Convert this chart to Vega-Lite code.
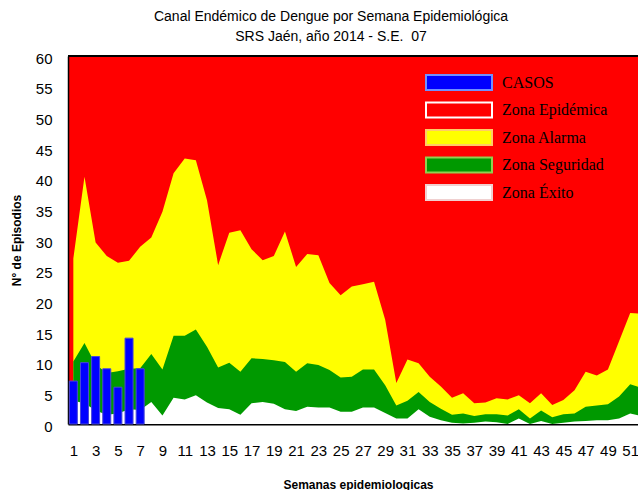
{
  "$schema": "https://vega.github.io/schema/vega-lite/v6.json",
  "width": 570,
  "height": 368,
  "autosize": {"type": "none"},
  "padding": {"left": 68, "top": 56, "right": 0, "bottom": 66},
  "background": "white",
  "config": {
    "view": {"fill": "#FF0000", "stroke": null},
    "font": "Liberation Sans",
    "axis": {"labelOverlap": false, "labelFlush": false, "grid": false, "ticks": false, "tickCount": 100}
  },
  "title": {
    "text": ["Canal Endémico de Dengue por Semana Epidemiológica", "SRS Jaén, año 2014 - S.E. \u00a007"],
    "font": "Liberation Sans",
    "fontSize": 14,
    "fontWeight": "normal",
    "color": "black",
    "anchor": "middle",
    "dx": -22,
    "offset": 7,
    "lineHeight": 20
  },
  "data": {
    "values": [
      {"semana": 1, "alarma": 27.0, "seguridad": 10.2, "exito": 3.8, "casos": 7},
      {"semana": 2, "alarma": 40.3, "seguridad": 13.2, "exito": 3.4, "casos": 10},
      {"semana": 3, "alarma": 29.6, "seguridad": 9.7, "exito": 2.2, "casos": 11},
      {"semana": 4, "alarma": 27.4, "seguridad": 8.3, "exito": 1.5, "casos": 9},
      {"semana": 5, "alarma": 26.3, "seguridad": 8.6, "exito": 1.7, "casos": 6},
      {"semana": 6, "alarma": 26.6, "seguridad": 9.0, "exito": 2.4, "casos": 14},
      {"semana": 7, "alarma": 28.9, "seguridad": 9.1, "exito": 2.3, "casos": 9},
      {"semana": 8, "alarma": 30.4, "seguridad": 11.4, "exito": 3.6},
      {"semana": 9, "alarma": 34.6, "seguridad": 8.9, "exito": 1.4},
      {"semana": 10, "alarma": 40.9, "seguridad": 14.4, "exito": 4.3},
      {"semana": 11, "alarma": 43.3, "seguridad": 14.4, "exito": 4.0},
      {"semana": 12, "alarma": 43.0, "seguridad": 15.4, "exito": 4.7},
      {"semana": 13, "alarma": 36.5, "seguridad": 12.6, "exito": 3.5},
      {"semana": 14, "alarma": 25.9, "seguridad": 9.2, "exito": 2.6},
      {"semana": 15, "alarma": 31.2, "seguridad": 10.0, "exito": 2.4},
      {"semana": 16, "alarma": 31.6, "seguridad": 8.5, "exito": 1.5},
      {"semana": 17, "alarma": 28.5, "seguridad": 10.7, "exito": 3.4},
      {"semana": 18, "alarma": 26.7, "seguridad": 10.6, "exito": 3.6},
      {"semana": 19, "alarma": 27.4, "seguridad": 10.4, "exito": 3.3},
      {"semana": 20, "alarma": 31.4, "seguridad": 10.1, "exito": 2.4},
      {"semana": 21, "alarma": 25.6, "seguridad": 8.5, "exito": 2.1},
      {"semana": 22, "alarma": 27.7, "seguridad": 9.9, "exito": 2.8},
      {"semana": 23, "alarma": 27.5, "seguridad": 9.6, "exito": 2.7},
      {"semana": 24, "alarma": 23.0, "seguridad": 8.8, "exito": 2.7},
      {"semana": 25, "alarma": 21.0, "seguridad": 7.6, "exito": 2.0},
      {"semana": 26, "alarma": 22.4, "seguridad": 7.7, "exito": 2.0},
      {"semana": 27, "alarma": 22.8, "seguridad": 8.9, "exito": 2.7},
      {"semana": 28, "alarma": 23.2, "seguridad": 8.9, "exito": 2.7},
      {"semana": 29, "alarma": 17.0, "seguridad": 6.3, "exito": 1.8},
      {"semana": 30, "alarma": 6.7, "seguridad": 3.0, "exito": 0.9},
      {"semana": 31, "alarma": 10.5, "seguridad": 3.8, "exito": 0.9},
      {"semana": 32, "alarma": 9.9, "seguridad": 5.2, "exito": 2.4},
      {"semana": 33, "alarma": 7.7, "seguridad": 3.6, "exito": 1.2},
      {"semana": 34, "alarma": 6.1, "seguridad": 2.5, "exito": 0.6},
      {"semana": 35, "alarma": 4.3, "seguridad": 1.5, "exito": 0.2},
      {"semana": 36, "alarma": 5.0, "seguridad": 1.7, "exito": 0.1},
      {"semana": 37, "alarma": 3.4, "seguridad": 1.3, "exito": 0.2},
      {"semana": 38, "alarma": 3.5, "seguridad": 1.6, "exito": 0.4},
      {"semana": 39, "alarma": 4.2, "seguridad": 1.6, "exito": 0.3},
      {"semana": 40, "alarma": 4.0, "seguridad": 1.4, "exito": 0.0},
      {"semana": 41, "alarma": 4.7, "seguridad": 2.4, "exito": 0.9},
      {"semana": 42, "alarma": 3.4, "seguridad": 0.9, "exito": 0.0},
      {"semana": 43, "alarma": 5.0, "seguridad": 2.2, "exito": 0.5},
      {"semana": 44, "alarma": 3.1, "seguridad": 1.1, "exito": 0.0},
      {"semana": 45, "alarma": 3.9, "seguridad": 1.6, "exito": 0.2},
      {"semana": 46, "alarma": 5.5, "seguridad": 1.7, "exito": 0.4},
      {"semana": 47, "alarma": 8.5, "seguridad": 2.8, "exito": 0.5},
      {"semana": 48, "alarma": 7.9, "seguridad": 3.0, "exito": 0.6},
      {"semana": 49, "alarma": 8.9, "seguridad": 3.2, "exito": 0.6},
      {"semana": 50, "alarma": 13.5, "seguridad": 4.5, "exito": 0.9},
      {"semana": 51, "alarma": 18.1, "seguridad": 6.5, "exito": 1.7},
      {"semana": 52, "alarma": 18.0, "seguridad": 5.9, "exito": 1.3}
    ]
  },
  "layer": [
    {
      "mark": {"type": "area", "interpolate": "linear"},
      "encoding": {
        "x": {
          "field": "semana", "type": "quantitative",
          "scale": {"domain": [0.52, 51.7], "nice": false, "zero": false, "padding": 0},
          "axis": {
            "values": [1,3,5,7,9,11,13,15,17,19,21,23,25,27,29,31,33,35,37,39,41,43,45,47,49,51],
            "tickCount": 100,
            "format": "d",
            "title": "Semanas epidemiologicas",
            "titleFont": "Liberation Sans",
            "titleFontSize": 12,
            "titleFontWeight": "bold",
            "titleColor": "black",
            "titlePadding": 21,
            "titleX": 290,
            "labelFont": "Liberation Sans",
            "labelFontSize": 15,
            "labelColor": "black",
            "labelPadding": 19,
            "labelFlush": false,
            "labelOverlap": false,
            "ticks": false,
            "grid": false,
            "domainColor": "black",
            "domainWidth": 2
          }
        },
        "y": {
          "field": "alarma", "type": "quantitative",
          "scale": {"domain": [0, 60], "nice": false, "padding": 0},
          "axis": {
            "values": [0,5,10,15,20,25,30,35,40,45,50,55,60],
            "tickCount": 100,
            "format": "d",
            "title": "N° de Episodios",
            "titleFont": "Liberation Sans",
            "titleFontSize": 12,
            "titleFontWeight": "bold",
            "titleColor": "black",
            "titlePadding": 12,
            "labelFont": "Liberation Sans",
            "labelFontSize": 15,
            "labelColor": "black",
            "labelPadding": 16,
            "labelOffset": 2,
            "labelOverlap": false,
            "labelFlush": false,
            "ticks": false,
            "grid": false,
            "domainColor": "black",
            "domainWidth": 1.5
          }
        },
        "color": {
          "datum": "Zona Alarma", "type": "nominal",
          "scale": {
            "domain": ["CASOS", "Zona Epidémica", "Zona Alarma", "Zona Seguridad", "Zona Éxito"],
            "range": ["#0000FF", "#FF0000", "#FFFF00", "#009900", "#FFFFFF"]
          },
          "legend": {
            "orient": "none",
            "legendX": 357,
            "legendY": 13,
            "title": null,
            "symbolType": "M-1,-0.23H1V0.23H-1Z",
            "symbolSize": 4356,
            "clipHeight": 27,
            "rowPadding": 0.5,
            "symbolStrokeWidth": 2,
            "symbolOpacity": 1,
            "labelFont": "Liberation Serif",
            "labelFontSize": 16,
            "labelColor": "black",
            "labelOffset": 9,
            "labelLimit": 300,
            "encode": {
              "symbols": {
                "update": {
                  "stroke": {"signal": "datum.value === 'CASOS' ? '#7090ff' : datum.value === 'Zona Epidémica' ? '#ffffff' : datum.value === 'Zona Alarma' ? '#ffcc66' : datum.value === 'Zona Seguridad' ? '#90d050' : '#f0d0d0'"},
                  "strokeWidth": {"value": 2},
                  "opacity": {"value": 1}
                }
              }
            }
          }
        }
      }
    },
    {
      "mark": {"type": "area", "interpolate": "linear"},
      "encoding": {
        "x": {"field": "semana", "type": "quantitative"},
        "y": {"field": "seguridad", "type": "quantitative"},
        "color": {"datum": "Zona Seguridad", "type": "nominal"}
      }
    },
    {
      "mark": {"type": "area", "interpolate": "linear"},
      "encoding": {
        "x": {"field": "semana", "type": "quantitative"},
        "y": {"field": "exito", "type": "quantitative"},
        "color": {"datum": "Zona Éxito", "type": "nominal"}
      }
    },
    {
      "transform": [{"filter": "datum.casos != null"}],
      "mark": {"type": "bar", "size": 8, "stroke": "#4848d8", "strokeWidth": 1},
      "encoding": {
        "x": {"field": "semana", "type": "quantitative"},
        "y": {"field": "casos", "type": "quantitative"},
        "color": {"datum": "CASOS", "type": "nominal"}
      }
    },
    {
      "mark": {"type": "rule", "color": "black", "strokeWidth": 2},
      "encoding": {"y": {"datum": 60}}
    }
  ]
}
